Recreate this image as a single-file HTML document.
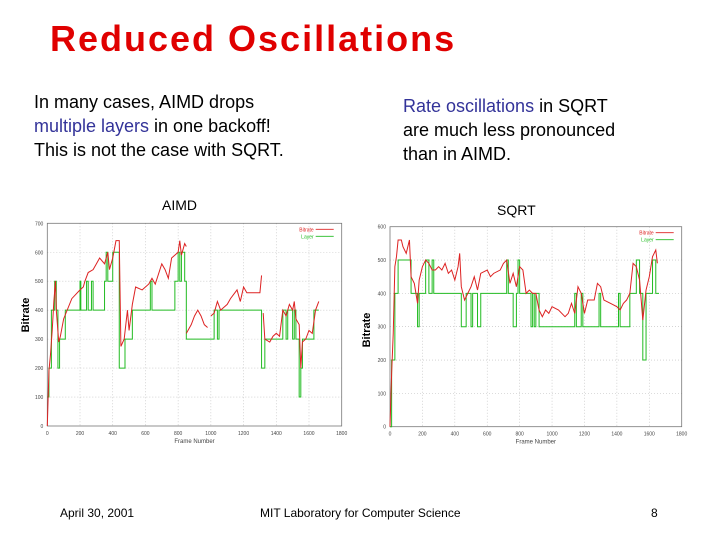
<!DOCTYPE html>
<html><head><meta charset="utf-8"><style>
body{margin:0;width:720px;height:540px;background:#fff;overflow:hidden;position:relative;font-family:"Liberation Sans",sans-serif}
.t{position:absolute;white-space:nowrap;color:#000}
.b{color:#333399}
</style></head><body>
<div class="t" style="left:50px;top:18px;font-size:36px;font-weight:bold;color:#e00000;letter-spacing:2px">Reduced Oscillations</div>
<div class="t" style="left:34px;top:90px;font-size:18px;line-height:24px">In many cases, AIMD drops<br><span class="b">multiple layers</span> in one backoff!<br>This is not the case with SQRT.</div>
<div class="t" style="left:403px;top:94px;font-size:18px;line-height:24px"><span class="b">Rate oscillations</span> in SQRT<br>are much less pronounced<br>than in AIMD.</div>
<div class="t" style="left:162px;top:197px;font-size:14px">AIMD</div>
<div class="t" style="left:497px;top:202px;font-size:14px">SQRT</div>
<div class="t" style="left:60px;top:506px;font-size:12px">April 30, 2001</div>
<div class="t" style="left:260px;top:506px;font-size:12px">MIT Laboratory for Computer Science</div>
<div class="t" style="left:651px;top:506px;font-size:12px">8</div>
<svg id="s" width="720" height="540" style="position:absolute;left:0;top:0"></svg>
<script>
const aimdRate=[[0,0],[10,190],[20,250],[30,330],[40,430],[50,500],[55,400],[70,290],[80,310],[100,370],[150,440],[200,470],[220,480],[230,500],[250,530],[280,540],[300,560],[320,580],[350,560],[370,600],[380,540],[400,580],[420,640],[440,640],[450,275],[470,300],[480,350],[490,400],[500,330],[520,420],[540,480],[580,470],[620,490],[640,510],[660,490],[700,560],[720,540],[740,510],[760,580],[800,600],[810,640],[820,590],[840,630],[850,620],null,[850,320],[880,350],[900,380],[920,400],[940,380],[960,350],[980,340],null,[1000,380],[1020,390],[1040,430],[1060,400],[1080,410],[1100,420],[1120,440],[1160,470],[1180,430],[1200,480],[1220,460],[1260,460],[1300,460],[1310,520],null,[1320,390],[1330,300],[1360,290],[1380,310],[1400,320],[1420,310],[1440,400],[1460,380],[1480,420],[1500,400],[1510,430],[1520,370],[1540,350],[1550,200],[1560,290],[1580,300],[1600,330],[1620,320],[1640,400],[1660,430]];
const aimdLayer=[[0,100],[10,200],[25,400],[45,500],[55,400],[65,200],[75,300],[110,400],[200,500],[205,400],[240,500],[250,400],[270,500],[280,400],[350,500],[360,600],[370,500],[380,500],[400,600],[440,200],[475,300],[500,300],[520,400],[630,500],[640,400],[660,400],[780,500],[800,600],[810,500],[820,600],[840,500],[850,300],[1020,400],[1030,400],[1040,300],[1050,400],[1310,200],[1330,300],[1440,400],[1460,300],[1470,400],[1500,300],[1510,400],[1520,300],[1540,100],[1550,200],[1560,300],[1630,400],[1660,400]];
const sqrtRate=[[0,0],[10,160],[20,280],[30,480],[40,510],[50,560],[70,560],[80,540],[100,520],[120,560],[130,450],[150,430],[170,370],[180,440],[200,480],[220,500],[240,490],[260,470],[280,470],[300,480],[320,470],[340,490],[360,460],[380,470],[400,440],[420,480],[430,520],[440,420],[460,380],[480,400],[500,420],[520,450],[540,410],[560,460],[600,470],[620,450],[640,460],[680,470],[700,490],[720,500],[740,430],[760,460],[780,420],[800,480],[820,470],[840,400],[860,410],[880,400],[900,400],[920,350],[940,330],[960,350],[980,340],[1000,360],[1040,350],[1080,330],[1100,340],[1120,370],[1140,340],[1160,420],[1180,400],[1200,340],[1220,380],[1260,380],[1280,430],[1300,420],[1320,380],[1360,370],[1400,360],[1420,350],[1440,370],[1460,380],[1480,400],[1500,490],[1520,480],[1540,440],[1560,320],[1580,410],[1600,450],[1620,510],[1640,530],[1650,490]];
const sqrtLayer=[[0,0],[10,200],[30,400],[50,500],[130,400],[170,300],[180,400],[220,500],[240,400],[260,500],[270,400],[440,300],[470,400],[500,300],[510,400],[540,300],[560,400],[720,500],[730,400],[760,300],[780,400],[790,500],[800,400],[870,300],[880,400],[890,300],[900,400],[920,300],[1140,400],[1150,300],[1180,400],[1190,300],[1290,400],[1300,300],[1410,400],[1420,300],[1480,400],[1520,500],[1540,400],[1560,200],[1580,400],[1620,500],[1640,400],[1660,400]];
const xTicks=[0,200,400,600,800,1000,1200,1400,1600,1800];
const aimdYTicks=[0,100,200,300,400,500,600,700];
const sqrtYTicks=[0,100,200,300,400,500,600];
const NS='http://www.w3.org/2000/svg';
const svg=document.getElementById('s');
function mk(tag,at,parent){const e=document.createElementNS(NS,tag);for(const k in at)e.setAttribute(k,at[k]);(parent||svg).appendChild(e);return e;}
function chart(name,L,R,T,B,ymax,yt,rate,layer){
  const g=mk('g',{});
  
  
  const x=v=>L+(v/1800)*(R-L), y=v=>B-(v/ymax)*(B-T);
  xTicks.forEach(t=>{
    if(t>0&&t<1800){const l=mk('line',{x1:x(t),x2:x(t),y1:T,y2:B,stroke:'#bbb','stroke-width':0.6,'stroke-dasharray':'1,2'},g);}
    const tx=mk('text',{x:x(t),y:B+9,'font-size':5,'text-anchor':'middle',fill:'#444'},g);tx.textContent=t;
    
    
  });
  yt.forEach(t=>{
    if(t>0&&t<ymax){const l=mk('line',{x1:L,x2:R,y1:y(t),y2:y(t),stroke:'#bbb','stroke-width':0.6,'stroke-dasharray':'1,2'},g);}
    const tx=mk('text',{x:L-4,y:y(t)+2,'font-size':5,'text-anchor':'end',fill:'#444'},g);tx.textContent=t;
    
    
  });
  const fr=mk('rect',{x:L,y:T,width:R-L,height:B-T,fill:'none',stroke:'#777','stroke-width':0.8},g);
  
  
  let d='',prev=null;
  layer.forEach(p=>{ if(prev===null) d+='M'+x(p[0])+' '+y(p[1]); else d+='L'+x(p[0])+' '+y(prev[1])+'L'+x(p[0])+' '+y(p[1]); prev=p;});
  const lp=mk('path',{d:d,fill:'none',stroke:'#22bb22','stroke-width':1},g);
  
  
  let d2='',start=true;
  rate.forEach(p=>{ if(p===null){start=true;return;} d2+=(start?'M':'L')+x(p[0])+' '+y(p[1]); start=false;});
  const rp=mk('path',{d:d2,fill:'none',stroke:'#dd2222','stroke-width':1},g);
  
  
  const t1=mk('text',{x:R-28,y:T+8,'font-size':5,'text-anchor':'end',fill:'#dd2222'},g);t1.textContent='Bitrate';
  
  
  mk('line',{x1:R-26,x2:R-8,y1:T+6,y2:T+6,stroke:'#dd2222','stroke-width':0.8},g);
  const t2=mk('text',{x:R-28,y:T+15,'font-size':5,'text-anchor':'end',fill:'#22bb22'},g);t2.textContent='Layer';
  
  
  mk('line',{x1:R-26,x2:R-8,y1:T+13,y2:T+13,stroke:'#22bb22','stroke-width':0.8},g);
  const xl=mk('text',{x:(L+R)/2,y:B+17,'font-size':6,'text-anchor':'middle',fill:'#444'},g);xl.textContent='Frame Number';
  
  
}
chart('aimd-chart',47.3,341.7,223.3,426,700,aimdYTicks,aimdRate,aimdLayer);
chart('sqrt-chart',390,681.7,226.7,426.7,600,sqrtYTicks,sqrtRate,sqrtLayer);
[[29,315,'aimd-y-title'],[370,330,'sqrt-y-title']].forEach(a=>{
  const t=mk('text',{x:a[0],y:a[1],'font-size':11,'font-weight':'bold','text-anchor':'middle',transform:'rotate(-90 '+a[0]+' '+a[1]+')','font-family':'Liberation Sans, sans-serif'});
  t.textContent='Bitrate';
  
  
});
</script>
</body></html>
